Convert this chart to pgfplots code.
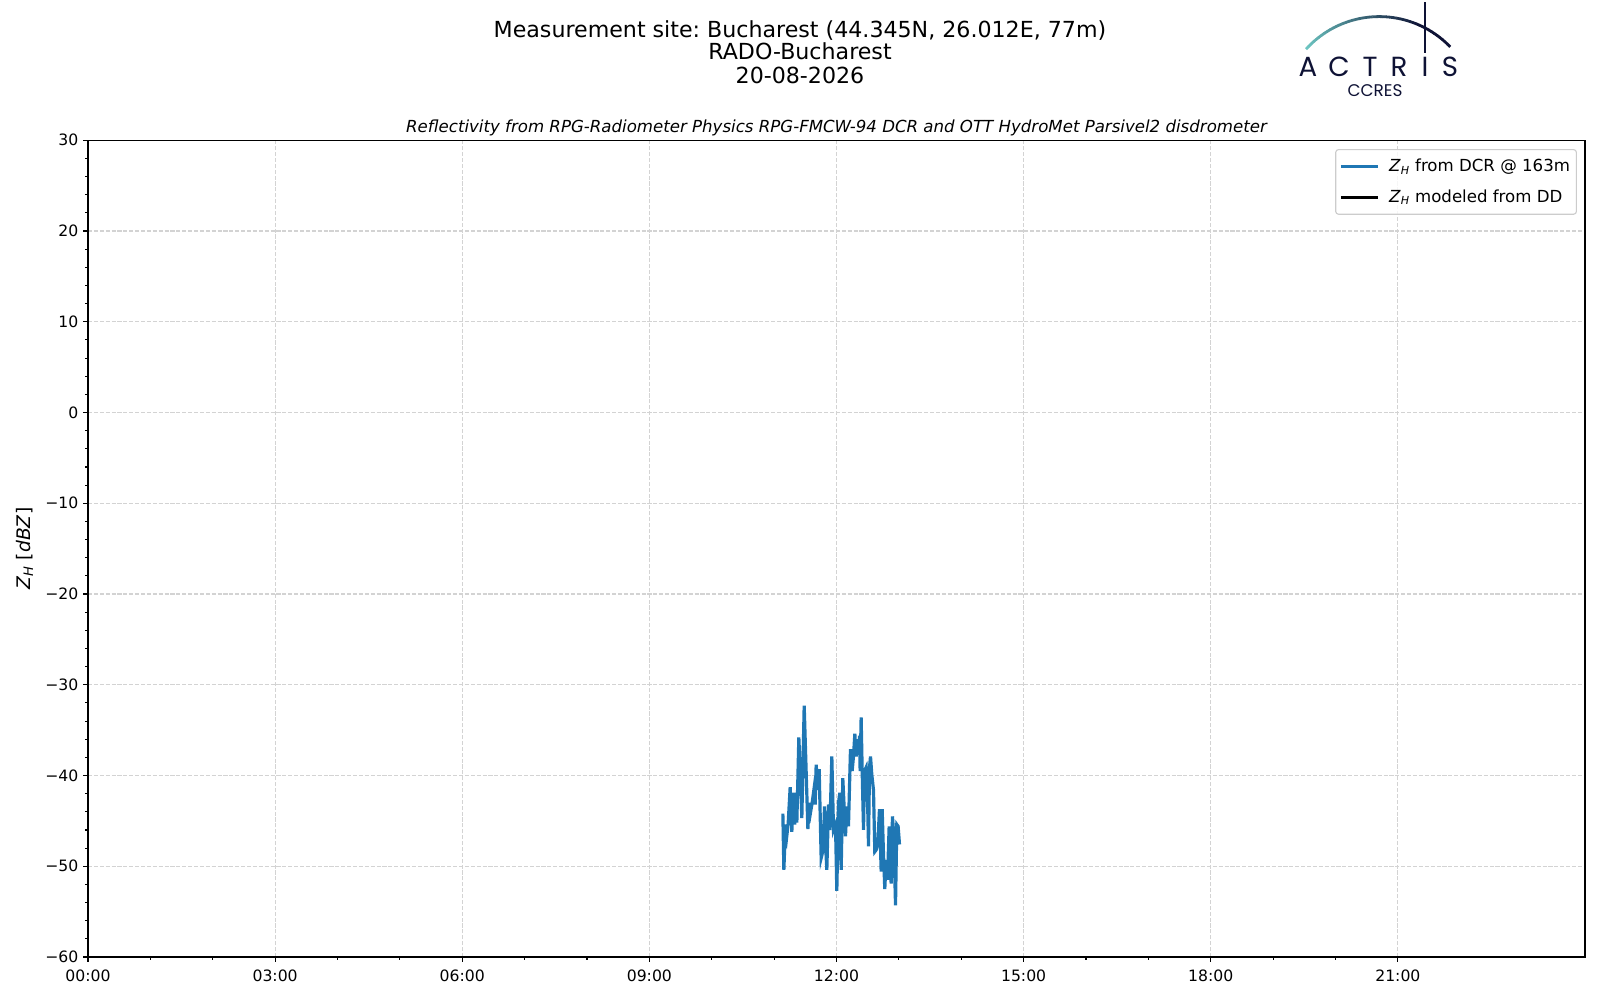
\documentclass[border=0pt]{standalone}
\usepackage{fontspec}
\setmainfont{DejaVu Sans}
\newfontfamily\logofont{Poppins}
\usepackage{pgfplots}
\pgfplotsset{compat=1.18}
\definecolor{mplblue}{HTML}{1F77B4}
\definecolor{navy}{HTML}{0E1235}
\definecolor{teal1}{HTML}{6CC5C1}
\definecolor{gridc}{HTML}{D3D3D3}
\definecolor{legedge}{HTML}{CCCCCC}
\frenchspacing
\begin{document}
\begin{tikzpicture}[x=0.72bp,y=0.72bp]
\path[use as bounding box] (-88,-43) rectangle (1512,957);
\begin{axis}[
  at={(0,0)}, anchor=south west,
  scale only axis, width=1077.84bp, height=588.02bp,
  xmin=0, xmax=24, ymin=-60, ymax=30,
  xtick={0,3,...,21},
  xticklabels={00:00,03:00,06:00,09:00,12:00,15:00,18:00,21:00},
  minor x tick num=2,
  ytick={-60,-50,...,30},
  yticklabels={−60,−50,−40,−30,−20,−10,0,10,20,30},
  minor y tick num=4,
  tick pos=left, tick align=outside,
  major tick length=3.5bp, minor tick length=2bp,
  tick style={black, line width=0.8bp},
  axis line style={line width=0.8bp},
  grid=major,
  major grid style={gridc, line width=0.8bp, dash pattern=on 2.96bp off 1.28bp},
  /pgf/number format/assume math mode=true,
  ticklabel style={font=\fontsize{11.3}{13}\selectfont},
  xticklabel style={yshift=-2.2bp},
  ylabel={\textit{Z}\textsubscript{\textit{H}} [\textit{dBZ}]},
  ylabel style={at={(axis description cs:-0.0424,0.5)}, anchor=center, font=\fontsize{13.5}{15}\selectfont},
  title={Reflectivity from RPG-Radiometer Physics RPG-FMCW-94 DCR and OTT HydroMet Parsivel2 disdrometer},
  title style={at={(axis description cs:0.5,1)}, anchor=base, yshift=-0.6bp, font=\fontsize{12}{14}\selectfont\itshape},
  legend style={at={(rel axis cs:1,1)}, anchor=north east, xshift=-5.8bp, yshift=-6.3bp,
    draw=legedge, line width=0.8bp, rounded corners=2bp, fill=white, fill opacity=0.8, text opacity=1,
    font=\fontsize{12}{14}\selectfont, inner xsep=2.6bp, inner ysep=5bp, row sep=7.4bp},
  legend cell align=left,
  legend image code/.code={\draw[#1] (0bp,0bp) -- (26.6bp,0bp); \path (31.6bp,0bp);},
]
\addplot[mplblue, line width=2.3bp] coordinates {
(11.140,-44.2) (11.156,-50.4) (11.183,-45.4) (11.204,-46.6) (11.225,-45.3)
(11.257,-41.3) (11.284,-46.2) (11.306,-41.9) (11.332,-45.4) (11.348,-41.9)
(11.364,-45.2) (11.396,-35.8) (11.423,-40.3) (11.444,-44.7) (11.482,-32.3)
(11.514,-39.7) (11.541,-45.9) (11.562,-43.0) (11.583,-44.1) (11.610,-43.0)
(11.637,-41.6) (11.658,-43.2) (11.674,-38.8) (11.701,-41.6) (11.722,-39.3)
(11.754,-49.1) (11.786,-48.2) (11.808,-43.4) (11.829,-48.2) (11.845,-50.4)
(11.872,-43.2) (11.893,-46.0) (11.925,-37.9) (11.952,-46.0) (11.984,-45.4)
(12.005,-52.7) (12.032,-43.0) (12.053,-41.9) (12.075,-50.4) (12.101,-40.3)
(12.144,-46.7) (12.166,-43.4) (12.192,-45.6) (12.224,-37.1) (12.251,-39.5)
(12.272,-37.9) (12.294,-35.4) (12.315,-37.9) (12.331,-36.0) (12.353,-37.7)
(12.369,-35.6) (12.379,-39.5) (12.395,-33.6) (12.411,-39.3) (12.433,-46.0)
(12.449,-39.5) (12.475,-39.1) (12.497,-42.4) (12.513,-47.8) (12.529,-39.1)
(12.545,-37.9) (12.566,-39.9) (12.593,-41.6) (12.614,-48.4) (12.636,-48.2)
(12.662,-47.5) (12.689,-43.7) (12.716,-50.6) (12.732,-43.7) (12.753,-48.6)
(12.774,-52.5) (12.796,-49.3) (12.817,-51.5) (12.844,-45.6) (12.876,-51.9)
(12.897,-44.5) (12.919,-46.7) (12.946,-54.3) (12.967,-45.4) (12.988,-45.6)
(13.010,-47.6)
};
\addlegendentry{\textit{Z}\textsubscript{\textit{H}} from DCR @ 163m}
\addlegendimage{black, line width=2.1bp}
\addlegendentry{\textit{Z}\textsubscript{\textit{H}} modeled from DD}
\end{axis}
% suptitle
\node[anchor=base, inner sep=0, font=\fontsize{16}{19}\selectfont] at (712,919.8) {Measurement site: Bucharest (44.345N, 26.012E, 77m)};
\node[anchor=base, inner sep=0, font=\fontsize{16}{19}\selectfont] at (712,897.2) {RADO-Bucharest};
\node[anchor=base, inner sep=0, font=\fontsize{16}{19}\selectfont] at (712,873.8) {20-08-2026};
% logo
\foreach \i in {0,...,46} {
  \pgfmathtruncatemacro\a{138-2*\i}
  \pgfmathtruncatemacro\p{max(0,100-\i*2.8)}
  \draw[color=teal1!\p!navy, line width=2bp] ([shift={(\a:98.4)}]1291.2,842) arc[start angle=\a, end angle=\a-2.2, radius=98.4];
}
\draw[navy, line width=1.8bp] (1337,904) -- (1337,955);
\foreach \x/\l in {1220/A,1251/C,1282/T,1311/R,1337/I,1362/S}
  \node[anchor=base, inner sep=0, text=navy, font=\logofont\fontsize{20}{22}\selectfont] at (\x,880.5) {\l};
\node[anchor=base, inner sep=0, text=navy, font=\logofont\fontsize{12.2}{14}\selectfont] at (1287,860) {CCRES};
\end{tikzpicture}
\end{document}
